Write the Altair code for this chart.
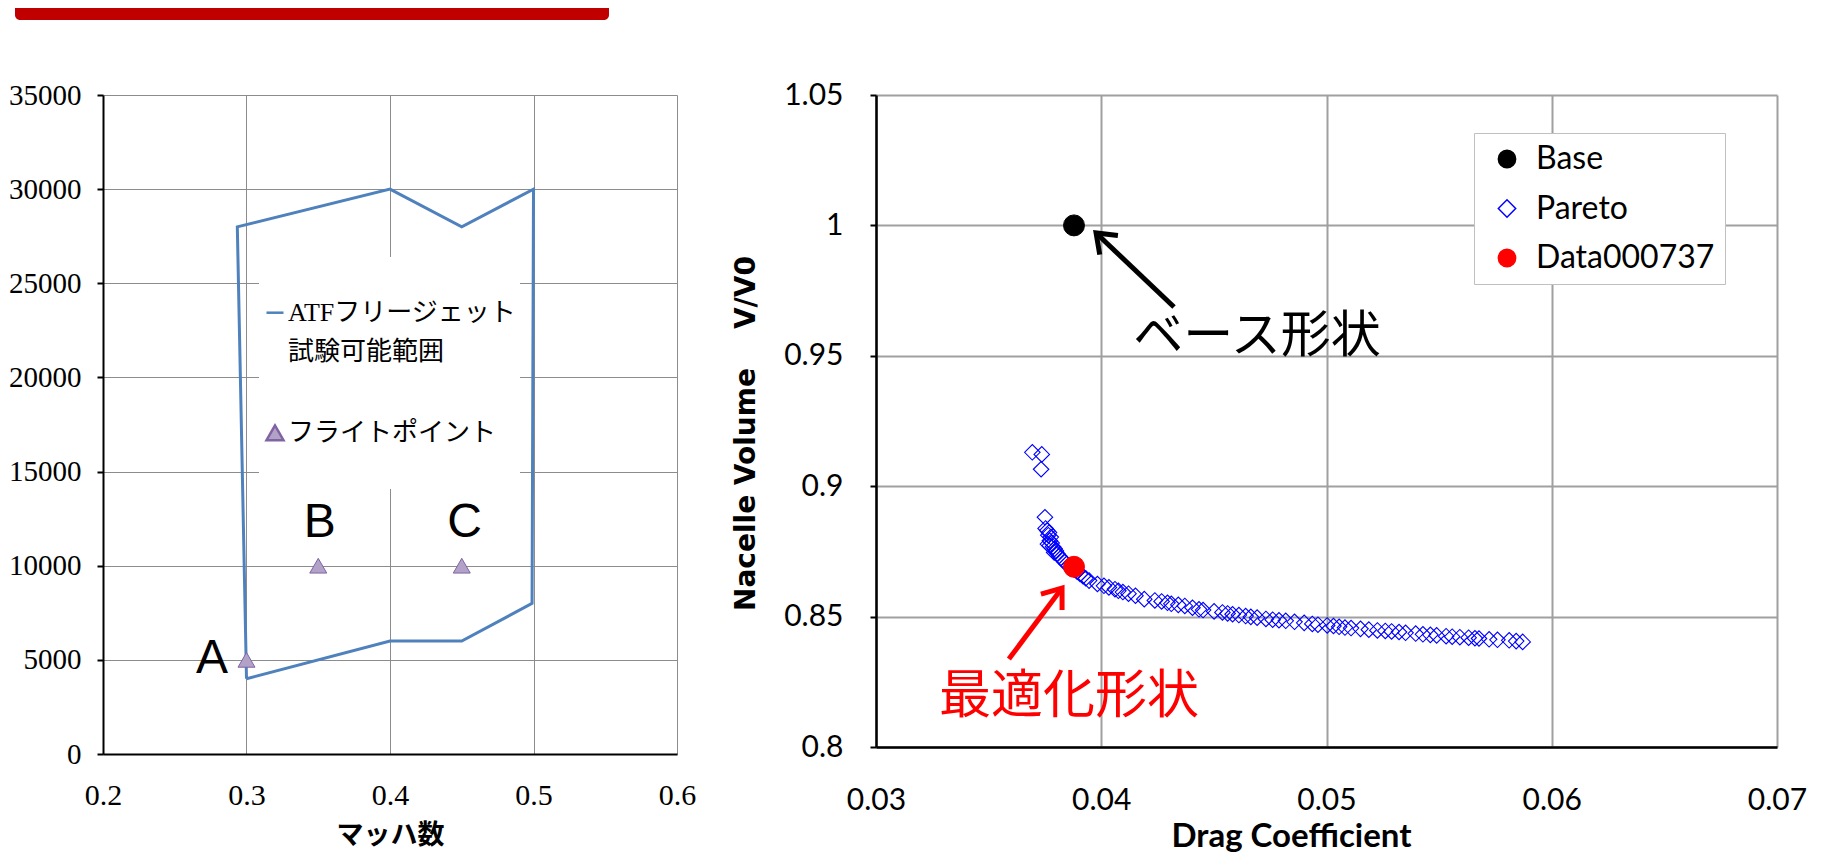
import math
import altair as alt
import pandas as pd

# ---------------- left panel : ATF free-jet test envelope ----------------
envelope_mach = [0.3, 0.4, 0.45, 0.499, 0.5, 0.45, 0.4, 0.2936, 0.3]
envelope_alt = [4000, 6000, 6000, 8000, 30000, 28000, 30000, 28000, 4000]
flight_mach = [0.3, 0.35, 0.45]
flight_alt = [5000, 10000, 10000]
flight_names = ["A", "B", "C"]
flight_name_mach = [0.276, 0.351, 0.452]
flight_name_alt = [5070, 12270, 12270]
mach_ticks = [0.2, 0.3, 0.4, 0.5, 0.6]
alt_ticks = [0, 5000, 10000, 15000, 20000, 25000, 30000, 35000]
left_entries = ["   ", "ATFフリージェット", "試験可能範囲", " ", "フライトポイント", "  "]

# ---------------- right panel : Pareto front ----------------
base_cd = [0.03879]
base_vol = [1.0]
opt_cd = [0.03879]
opt_vol = [0.8691]
pareto_cd = [
    0.03694, 0.03736, 0.03733,
    0.03750, 0.03753, 0.03760, 0.03768, 0.03765, 0.03776, 0.03772, 0.03780, 0.03763, 0.03771,
    0.03786, 0.03793, 0.03799, 0.03791, 0.03806, 0.03813, 0.03821, 0.03829, 0.03836, 0.03846,
    0.03856, 0.03868, 0.03881, 0.03893, 0.03906, 0.03919, 0.03931, 0.03946,
    0.03983, 0.04012, 0.04034, 0.04061, 0.04076, 0.04096, 0.04121, 0.04152, 0.04191, 0.04238,
    0.04268, 0.04294, 0.04311, 0.04342, 0.04371, 0.04405, 0.04434, 0.04452, 0.04501, 0.04538,
    0.04561, 0.04583, 0.04611, 0.04641, 0.04664, 0.04692, 0.04731, 0.04761, 0.04789, 0.04819,
    0.04858, 0.04901, 0.04937, 0.04962, 0.05003, 0.05031, 0.05056, 0.05082, 0.05109, 0.05151,
    0.05188, 0.05226, 0.05261, 0.05289, 0.05322, 0.05351, 0.05396, 0.05428, 0.05461, 0.05489,
    0.05531, 0.05558, 0.05592, 0.05631, 0.05659, 0.05677, 0.05722, 0.05759, 0.05811, 0.05842,
    0.05871,
]
pareto_vol = [
    0.9130, 0.9122, 0.9065,
    0.8881, 0.8838, 0.8830, 0.8822, 0.8812, 0.8805, 0.8791, 0.8782, 0.8778, 0.8772,
    0.8768, 0.8760, 0.8752, 0.8746, 0.8740, 0.8732, 0.8725, 0.8717, 0.8710, 0.8702,
    0.8695, 0.8688, 0.8680, 0.8672, 0.8663, 0.8655, 0.8647, 0.8638,
    0.8625, 0.8618, 0.8612, 0.8605, 0.8599, 0.8594, 0.8588, 0.8580, 0.8567, 0.8562,
    0.8558, 0.8553, 0.8549, 0.8545, 0.8541, 0.8534, 0.8528, 0.8525, 0.8520, 0.8516,
    0.8512, 0.8509, 0.8506, 0.8502, 0.8499, 0.8496, 0.8491, 0.8488, 0.8486, 0.8484,
    0.8480, 0.8476, 0.8472, 0.8469, 0.8466, 0.8464, 0.8461, 0.8458, 0.8456, 0.8453,
    0.8450, 0.8447, 0.8445, 0.8443, 0.8441, 0.8438, 0.8435, 0.8432, 0.8430, 0.8428,
    0.8425, 0.8423, 0.8421, 0.8419, 0.8417, 0.8416, 0.8413, 0.8411, 0.8409, 0.8406,
    0.8403,
]
cd_ticks = [0.03, 0.04, 0.05, 0.06, 0.07]
vol_ticks = [0.8, 0.85, 0.9, 0.95, 1.0, 1.05]
right_entries = ["Base", "Pareto", "Data000737"]

# annotation anchors (data units)
base_note = ["ベース形状"]
base_note_cd = [0.04691]
base_note_vol = [0.9572]
opt_note = ["最適化形状"]
opt_note_cd = [0.03857]
opt_note_vol = [0.8192]
base_arrow_from = [0.04323, 0.96871]
base_arrow_to = [0.03977, 0.99709]
opt_arrow_from = [0.0359, 0.83374]
opt_arrow_to = [0.03826, 0.86097]

# ---------------- layout constants ----------------
WL, HL = 574, 659
WR, HR = 901, 652
MACH_DOM = [0.2, 0.6]
ALT_DOM = [0, 35000]
CD_DOM = [0.03, 0.07]
VOL_DOM = [0.8, 1.05]

SERIF = "Liberation Serif"
JP = "Noto Sans CJK JP"
SANS = "Lato"

# ================= LEFT =================
xL = alt.X("mach:Q", title="マッハ数",
           scale=alt.Scale(domain=MACH_DOM, nice=False, zero=False),
           axis=alt.Axis(values=mach_ticks, format=".1f", labelFont=SERIF, labelFontSize=30,
                         labelColor="black", labelPadding=26, tickSize=0, labelFlush=False,
                         labelOverlap=False, domainColor="black", domainWidth=2,
                         gridColor="#8c8c8c", gridWidth=1, titleFont=JP, titleFontSize=27,
                         titleFontWeight="bold", titleColor="black", titleY=81,
                         titleBaseline="middle"))
yL = alt.Y("alt:Q", title=None,
           scale=alt.Scale(domain=ALT_DOM, nice=False, zero=False),
           axis=alt.Axis(values=alt_ticks, format="d", labelFont=SERIF, labelFontSize=29,
                         labelColor="black", labelPadding=16, tickSize=6, tickColor="black",
                         tickWidth=2, labelFlush=False, labelOverlap=False,
                         domainColor="black", domainWidth=2, gridColor="#8c8c8c", gridWidth=1))

left_legend = alt.Legend(
    title=None, orient="none", legendX=156, legendY=162, direction="vertical",
    fillColor="white", padding=3,
    labelFont=SERIF + ", " + JP, labelFontSize=26, labelColor="black", labelLimit=400,
    labelOffset=0, symbolSize=289, symbolStrokeWidth=2.5, symbolOffset=0, rowPadding=12.7,
)
stroke_L = alt.Stroke("series:N", legend=left_legend,
                      scale=alt.Scale(domain=left_entries,
                                      range=["transparent", "#4F81BD", "transparent", "transparent",
                                             "#8064A2", "transparent"]))
fill_L = alt.Fill("series:N", legend=left_legend,
                  scale=alt.Scale(domain=left_entries,
                                  range=["transparent", "#4F81BD", "transparent", "transparent",
                                         "#B3A2C7", "transparent"]))
shape_L = alt.Shape("series:N", legend=left_legend,
                    scale=alt.Scale(domain=left_entries,
                                    range=["circle", "stroke", "circle", "circle", "triangle-up", "circle"]))

env_df = pd.DataFrame({"mach": envelope_mach, "alt": envelope_alt,
                       "idx": list(range(len(envelope_mach))),
                       "series": [left_entries[1]] * len(envelope_mach)})
fp_df = pd.DataFrame({"mach": flight_mach, "alt": flight_alt,
                      "series": [left_entries[4]] * len(flight_mach)})
fp_lab_df = pd.DataFrame({"mach": flight_name_mach, "alt": flight_name_alt, "name": flight_names})

frame = alt.Chart(pd.DataFrame({"k": [0]})).mark_rect(
    color="#C00000", cornerRadiusBottomLeft=5, cornerRadiusBottomRight=5
).encode(x=alt.value(-88), x2=alt.value(506), y=alt.value(-87), y2=alt.value(-75))

env_line = alt.Chart(env_df).mark_line(strokeWidth=3, strokeJoin="miter").encode(
    x=xL, y=yL, order=alt.Order("idx:Q"), stroke=stroke_L)

fp_pts = alt.Chart(fp_df).mark_point(filled=True, size=289, strokeWidth=1, opacity=1).encode(
    x=xL, y=yL, stroke=stroke_L, fill=fill_L, shape=shape_L)

fp_text = alt.Chart(fp_lab_df).mark_text(font="Liberation Sans", fontSize=48, color="black",
                                         baseline="middle", align="center").encode(
    x=xL, y=yL, text="name:N")

left = alt.layer(frame, env_line, fp_pts, fp_text).properties(width=WL, height=HL)

# ================= RIGHT =================
xR = alt.X("cd:Q", title="Drag Coefficient",
           scale=alt.Scale(domain=CD_DOM, nice=False, zero=False),
           axis=alt.Axis(values=cd_ticks, format=".2f", labelFont=SANS, labelFontSize=30,
                         labelColor="black", labelPadding=38, tickSize=0, labelFlush=False,
                         labelOverlap=False, domainColor="black", domainWidth=2.5,
                         gridColor="#a0a0a0", gridWidth=2, titleFont=SANS, titleFontSize=33,
                         titleFontWeight="bold", titleColor="black", titleX=415, titleY=89,
                         titleBaseline="middle", titleAlign="center"))
yR = alt.Y("vol:Q", title="Nacelle Volume\u00a0\u00a0\u00a0\u00a0V/V0",
           scale=alt.Scale(domain=VOL_DOM, nice=False, zero=False),
           axis=alt.Axis(values=vol_ticks, format=".2~f", labelFont=SANS, labelFontSize=30,
                         labelColor="black", labelPadding=27, tickSize=6, tickColor="black",
                         tickWidth=2, labelFlush=False, labelOverlap=False,
                         domainColor="black", domainWidth=2.5, gridColor="#a0a0a0", gridWidth=2,
                         titleFont="DejaVu Sans", titleFontSize=28, titleFontWeight="bold",
                         titleColor="black", titleX=-130, titleY=338, titleAngle=270,
                         titleBaseline="middle", titleAlign="center"))

right_legend = alt.Legend(
    title=None, orient="none", legendX=598, legendY=38, direction="vertical",
    fillColor="white", strokeColor="#c0c0c0", padding=10,
    labelFont=SANS, labelFontSize=32, labelColor="black", labelLimit=400,
    labelOffset=13, symbolSize=300, symbolStrokeWidth=1.5, symbolOffset=7, rowPadding=17.5,
)
fill_R = alt.Fill("series:N", legend=right_legend,
                  scale=alt.Scale(domain=right_entries, range=["#000000", "transparent", "#FF0000"]))
stroke_R = alt.Stroke("series:N", legend=right_legend,
                      scale=alt.Scale(domain=right_entries, range=["#000000", "#0000FF", "#FF0000"]))
shape_R = alt.Shape("series:N", legend=right_legend,
                    scale=alt.Scale(domain=right_entries, range=["circle", "diamond", "circle"]))

pareto_df = pd.DataFrame({"cd": pareto_cd, "vol": pareto_vol, "series": ["Pareto"] * len(pareto_cd)})
opt_df = pd.DataFrame({"cd": opt_cd, "vol": opt_vol, "series": ["Data000737"] * len(opt_cd)})
base_df = pd.DataFrame({"cd": base_cd, "vol": base_vol, "series": ["Base"] * len(base_cd)})

pareto_pts = alt.Chart(pareto_df).mark_point(filled=True, size=240, strokeWidth=1.1, opacity=1).encode(
    x=xR, y=yR, fill=fill_R, stroke=stroke_R, shape=shape_R)
opt_pts = alt.Chart(opt_df).mark_point(filled=True, size=440, strokeWidth=1, opacity=1).encode(
    x=xR, y=yR, fill=fill_R, stroke=stroke_R, shape=shape_R)
base_pts = alt.Chart(base_df).mark_point(filled=True, size=440, strokeWidth=1, opacity=1).encode(
    x=xR, y=yR, fill=fill_R, stroke=stroke_R, shape=shape_R)


def heading(p_from, p_to):
    px = (p_to[0] - p_from[0]) / (CD_DOM[1] - CD_DOM[0]) * WR
    py = -(p_to[1] - p_from[1]) / (VOL_DOM[1] - VOL_DOM[0]) * HR
    return math.degrees(math.atan2(py, px)) % 360


CHEVRON = "M-1,-0.75L0,0L-1,0.75"


def arrow(p_from, p_to, color):
    shaft_df = pd.DataFrame({"cd": [p_from[0]], "vol": [p_from[1]],
                             "cd2": [p_to[0]], "vol2": [p_to[1]]})
    head_df = pd.DataFrame({"cd": [p_to[0]], "vol": [p_to[1]],
                            "ang": [heading(p_from, p_to)]})
    shaft = alt.Chart(shaft_df).mark_rule(strokeWidth=5, color=color).encode(
        x=xR, y=yR, x2="cd2:Q", y2="vol2:Q")
    head = alt.Chart(head_df).mark_point(shape=CHEVRON, filled=False, size=1240, strokeWidth=5,
                                         color=color, opacity=1, strokeJoin="miter").encode(
        x=xR, y=yR, angle=alt.Angle("ang:Q", scale=None))
    return shaft, head


b_shaft, b_head = arrow(base_arrow_from, base_arrow_to, "#000000")
o_shaft, o_head = arrow(opt_arrow_from, opt_arrow_to, "#FF0000")

base_txt = alt.Chart(pd.DataFrame({"cd": base_note_cd, "vol": base_note_vol, "t": base_note})).mark_text(
    font=JP, fontSize=50, color="black", align="center", baseline="middle").encode(x=xR, y=yR, text="t:N")
opt_txt = alt.Chart(pd.DataFrame({"cd": opt_note_cd, "vol": opt_note_vol, "t": opt_note})).mark_text(
    font=JP, fontSize=52, color="#FF0000", align="center", baseline="middle").encode(x=xR, y=yR, text="t:N")

right = alt.layer(pareto_pts, opt_pts, base_pts, b_shaft, b_head, o_shaft, o_head,
                  base_txt, opt_txt).properties(width=WR, height=HR)

chart = alt.hconcat(left, right, spacing=36).resolve_scale(
    fill="independent", stroke="independent", shape="independent"
).resolve_legend(
    fill="independent", stroke="independent", shape="independent"
).properties(
    padding={"left": 0, "top": 0, "right": 0, "bottom": 0},
    background="white",
).configure_view(strokeWidth=0)

chart.save("out.html", embed_options={"renderer": "svg", "actions": False})
